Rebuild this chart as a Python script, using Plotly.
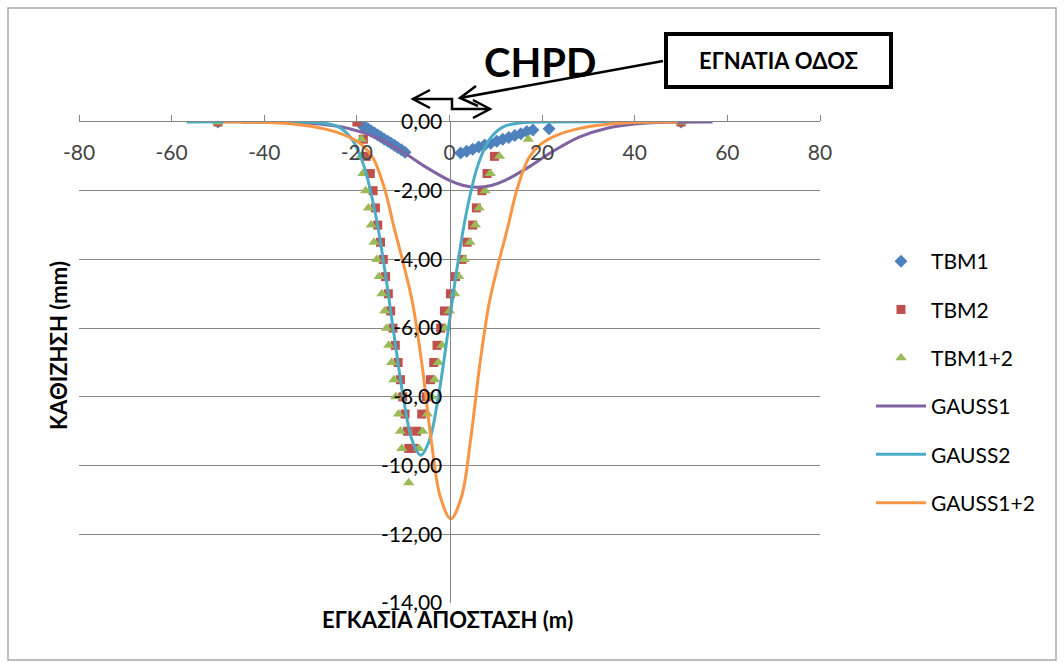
import plotly.graph_objects as go

# ---- measured settlements (x: transverse distance in m, y: settlement in mm) ----
tbm1_x = [-50, -19.0, -18.3, -17.6, -16.9, -16.2, -15.5, -14.8, -14.1, -13.3, -12.6, -11.9, -11.2, -10.4, -9.6,
          2.4, 3.7, 5.0, 6.3, 7.6, 8.9, 10.2, 11.5, 12.8, 14.1, 15.4, 16.7, 18.0, 21.5, 50]
tbm1_y = [0, -0.08, -0.14, -0.20, -0.26, -0.32, -0.38, -0.44, -0.50, -0.56, -0.62, -0.68, -0.74, -0.81, -0.88,
          -0.90, -0.85, -0.79, -0.73, -0.67, -0.62, -0.56, -0.50, -0.45, -0.39, -0.34, -0.28, -0.23, -0.20, 0]

tbm2_x = [-50, -20.0, -18.6, -18.0, -17.1, -16.5, -16.0, -15.5, -14.9, -14.3, -13.8, -13.2, -12.7, -12.2, -11.7,
          -11.1, -10.6, -10.1, -9.6, -9.1, -8.8,
          -7.7, -7.1, -6.0, -5.0, -4.1, -3.4, -2.7, -1.9, -1.1, 0.2, 1.3, 2.7, 3.8, 5.0, 5.8, 7.0, 8.1, 9.7, 50]
tbm2_y = [0, 0, -0.5, -1.0, -1.5, -2.0, -2.5, -3.0, -3.5, -4.0, -4.5, -5.0, -5.5, -6.0, -6.5,
          -7.0, -7.5, -8.0, -8.5, -9.0, -9.5,
          -9.5, -9.0, -8.5, -8.0, -7.5, -7.0, -6.5, -6.0, -5.5, -5.0, -4.5, -4.0, -3.5, -3.0, -2.5, -2.0, -1.5, -1.0, 0]

tbm12_x = [-50, -19.0, -19.1, -18.7, -18.1, -17.5, -16.9, -16.3, -15.7, -15.2, -14.6, -14.0, -13.6, -13.1, -12.5,
           -12.0, -11.6, -11.0, -10.6, -10.3, -8.8,
           -6.6, -5.8, -4.8, -3.9, -3.2, -2.4, -1.6, -0.9, 0.0, 1.1, 2.0, 3.2, 4.4, 5.6, 6.4, 7.7, 8.8, 10.8, 17.0, 50]
tbm12_y = [0, -0.5, -1.0, -1.5, -2.0, -2.5, -3.0, -3.5, -4.0, -4.5, -5.0, -5.5, -6.0, -6.5, -7.0,
           -7.5, -8.0, -8.5, -9.0, -9.5, -10.5,
           -9.5, -9.0, -8.5, -8.0, -7.5, -7.0, -6.5, -6.0, -5.5, -5.0, -4.5, -4.0, -3.5, -3.0, -2.5, -2.0, -1.5, -1.0, -0.5, 0]

# ---- fitted settlement troughs ----
gauss1_x = [-44.8, -35, -28, -22, -16, -10, -5, 0, 3, 6, 9, 12, 17, 22, 28, 34, 40, 47, 56.8]
gauss1_y = [0.0, -0.01, -0.06, -0.18, -0.44, -0.88, -1.32, -1.70, -1.85, -1.90, -1.85, -1.70, -1.32, -0.88,
            -0.44, -0.18, -0.06, -0.01, 0.0]

gauss2_x = [-56.8, -35, -28, -24, -21, -18.5, -16, -14, -12, -10, -8, -6.2, -4.4, -2.4, -0.4, 1.6, 3.6, 6.1,
            8.6, 11.6, 15.6, 22.6, 44.4]
gauss2_y = [0.0, 0.0, -0.02, -0.14, -0.51, -1.27, -2.67, -4.28, -6.17, -7.99, -9.29, -9.70, -9.29, -7.99,
            -6.17, -4.28, -2.67, -1.27, -0.51, -0.14, -0.02, 0.0, 0.0]

gauss12_x = [-48.7, -40, -33, -27, -22, -19, -16.5, -14, -12, -10, -8, -6, -4, -2, 0.3,
             2.6, 4.6, 6.6, 8.6, 10.6, 12.6, 14.6, 17.1, 19.6, 22.6, 27.6, 33.6, 40.6, 49.3]
gauss12_y = [0.0, -0.01, -0.07, -0.20, -0.42, -0.66, -1.05, -1.95, -3.05, -4.1, -5.25, -7.0, -9.2, -10.9, -11.55,
             -10.9, -9.2, -7.0, -5.25, -4.1, -3.05, -1.95, -1.05, -0.66, -0.42, -0.20, -0.07, -0.01, 0.0]

# ---- axis ticks ----
x_ticks = [-80, -60, -40, -20, 0, 20, 40, 60, 80]
x_labels = ["-80", "-60", "-40", "-20", "0", "20", "40", "60", "80"]
y_ticks = [0, -2, -4, -6, -8, -10, -12, -14]
y_labels = ["0,00", "-2,00", "-4,00", "-6,00", "-8,00", "-10,00", "-12,00", "-14,00"]

W, H = 1064, 668
ML, MR, MT, MB = 79, 244, 122, 65
PW, PH = W - ML - MR, H - MT - MB


def px(xp):
    return (xp - ML) / PW


def py(yp):
    return (H - MB - yp) / PH


FONT = "Lato, 'Open Sans', sans-serif"
GRID = "#868686"
TICK_SIZE = 21

fig = go.Figure()

fig.add_trace(go.Scatter(x=tbm1_x, y=tbm1_y, mode="markers", name="TBM1", legendgroup="a",
                         marker=dict(symbol="diamond", size=10, color="#4F81BD")))
fig.add_trace(go.Scatter(x=tbm2_x, y=tbm2_y, mode="markers", name="TBM2", legendgroup="b",
                         marker=dict(symbol="square", size=9, color="#C0504D")))
fig.add_trace(go.Scatter(x=tbm12_x, y=tbm12_y, mode="markers", name="TBM1+2", legendgroup="c",
                         marker=dict(symbol="triangle-up", size=10, color="#9BBB59")))
fig.add_trace(go.Scatter(x=gauss1_x, y=gauss1_y, mode="lines", name="GAUSS1", legendgroup="d",
                         line=dict(color="#8064A2", width=3, shape="spline")))
fig.add_trace(go.Scatter(x=gauss2_x, y=gauss2_y, mode="lines", name="GAUSS2", legendgroup="e",
                         line=dict(color="#4BACC6", width=3, shape="spline")))
fig.add_trace(go.Scatter(x=gauss12_x, y=gauss12_y, mode="lines", name="GAUSS1+2", legendgroup="f",
                         line=dict(color="#F79646", width=3, shape="spline")))

fig.update_layout(
    width=W, height=H,
    margin=dict(l=ML, r=MR, t=MT, b=MB, autoexpand=False),
    paper_bgcolor="white", plot_bgcolor="white",
    font=dict(family=FONT, size=TICK_SIZE, color="black"),
    showlegend=True,
    legend=dict(x=px(871), y=py(241), xanchor="left", yanchor="top",
                font=dict(size=TICK_SIZE), itemwidth=50, tracegroupgap=18,
                bgcolor="rgba(0,0,0,0)"),
    xaxis=dict(range=[-80, 80], side="top", tickvals=x_ticks, ticktext=x_labels,
               ticklabelposition="inside", ticklabeloverflow="allow", ticklabelstandoff=25,
               ticks="outside", ticklen=6, tickcolor=GRID,
               showline=True, linecolor=GRID, linewidth=1,
               showgrid=False, zeroline=False, tickfont=dict(size=TICK_SIZE)),
    yaxis=dict(range=[-14, 0], tickvals=y_ticks, ticktext=y_labels, anchor="free", position=0.5,
               showline=True, linecolor=GRID, linewidth=1, ticks="", ticklabelstandoff=3,
               showgrid=True, gridcolor=GRID, gridwidth=1, zeroline=False, tickfont=dict(size=TICK_SIZE)),
)

# outer chart frame
fig.add_shape(type="rect", xref="paper", yref="paper", x0=px(8), x1=px(1056), y0=py(660), y1=py(8),
              line=dict(color="#A6A6A6", width=1.5), layer="below")

CENTER = dict(xref="paper", yref="paper", xanchor="center", yanchor="middle", showarrow=False)

# axis titles
fig.add_annotation(text="<b>ΕΓΚΑΣΙΑ ΑΠΟΣΤΑΣΗ (m)</b>", x=px(447), y=py(619), font=dict(size=22), **CENTER)
fig.add_annotation(text="<b>ΚΑΘΙΖΗΣΗ (mm)</b>", x=px(58), y=py(346), textangle=-90, font=dict(size=22), **CENTER)

# CHPD label and road box
fig.add_annotation(text="<b>CHPD</b>", x=px(540), y=py(62), font=dict(size=40), **CENTER)
fig.add_annotation(text="<b>ΕΓΝΑΤΙΑ ΟΔΟΣ</b>", x=px(778), y=py(60), font=dict(size=22),
                   bordercolor="black", borderwidth=4, borderpad=0, bgcolor="white",
                   width=221, height=49, **CENTER)


def path(points):
    return "M " + " L ".join(f"{px(a):.5f},{py(b):.5f}" for a, b in points)


ARROW = dict(color="black", width=2.5)
# leader from the road box
fig.add_shape(type="path", xref="paper", yref="paper", path=path([(663, 61), (460, 98)]), line=ARROW)
fig.add_shape(type="path", xref="paper", yref="paper", path=path([(476, 86), (460, 98), (478, 106)]), line=ARROW)
# stepped double arrow
fig.add_shape(type="path", xref="paper", yref="paper",
              path=path([(413, 99), (452, 99), (452, 109), (490, 109)]), line=ARROW)
fig.add_shape(type="path", xref="paper", yref="paper", path=path([(430, 90), (413, 99), (430, 108)]), line=ARROW)
fig.add_shape(type="path", xref="paper", yref="paper", path=path([(473, 100), (490, 109), (473, 118)]), line=ARROW)

fig.write_html("out.html")
